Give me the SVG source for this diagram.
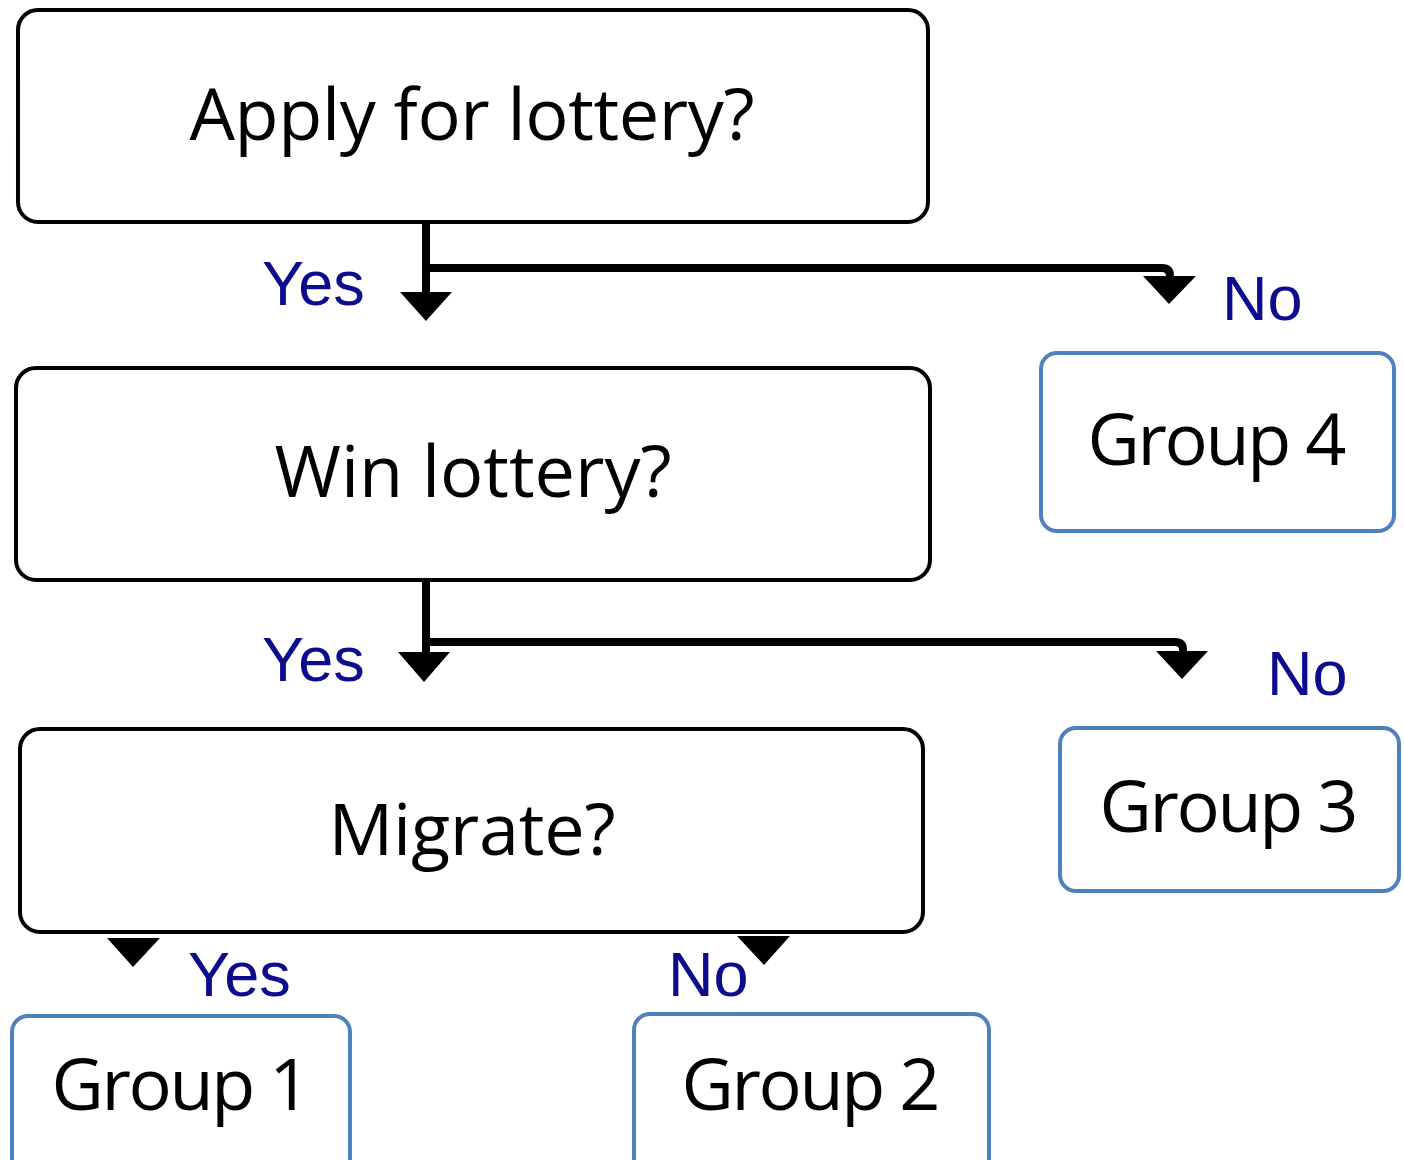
<svg xmlns="http://www.w3.org/2000/svg" width="1404" height="1160" viewBox="0 0 1404 1160">
<style>
.q{fill:#fff;stroke:#000;stroke-width:4}
.g{fill:#fff;stroke:#4f81bd;stroke-width:4}
.t{font-family:"Open Sans","Noto Sans",sans-serif;font-size:72px;fill:#000;text-anchor:middle}
.l{font-family:"Liberation Sans",Arial,sans-serif;font-size:63px;fill:#0c0c8c}
.c{fill:none;stroke:#000;stroke-width:8;stroke-linejoin:round}
.h{fill:#000}
</style>
<g id="connectors">
<path class="c" d="M426 222 V296"/>
<path class="c" d="M426 268 H1162 Q1170 268 1170 276 V290"/>
<polygon class="h" points="400,292 452,292 426,321"/>
<polygon class="h" points="1143,276 1196,276 1169,304"/>
<path class="c" d="M426 580 V656"/>
<path class="c" d="M426 642 H1175 Q1183 642 1183 650 V660"/>
<polygon class="h" points="398,652 450,652 424,682"/>
<polygon class="h" points="1156,651 1208,651 1182,679"/>
<polygon class="h" points="107,938 160,938 133,967"/>
<polygon class="h" points="737,936 790,936 764,965"/>
<text class="l" x="262" y="305">Yes</text>
<text class="l" x="1222" y="320">No</text>
<text class="l" x="262" y="681">Yes</text>
<text class="l" x="1267" y="695">No</text>
<text class="l" x="188" y="996">Yes</text>
<text class="l" x="668" y="996">No</text>
</g>
<g id="n1"><rect class="q" x="18" y="10" width="910" height="212" rx="20"/><text class="t" x="472" y="140" textLength="565">Apply for lottery?</text></g>
<g id="n2"><rect class="q" x="16" y="368" width="914" height="212" rx="20"/><text class="t" x="473" y="497" textLength="397">Win lottery?</text></g>
<g id="n3"><rect class="q" x="20" y="729" width="903" height="203" rx="20"/><text class="t" x="472" y="855" textLength="287">Migrate?</text></g>
<g id="g4"><rect class="g" x="1041" y="353" width="353" height="178" rx="16"/><text class="t" x="1217" y="465" textLength="259">Group 4</text></g>
<g id="g3"><rect class="g" x="1060" y="728" width="339" height="163" rx="16"/><text class="t" x="1229" y="832" textLength="259">Group 3</text></g>
<g id="g1"><rect class="g" x="12" y="1016" width="338" height="160" rx="16"/><text class="t" x="181" y="1110" textLength="259">Group 1</text></g>
<g id="g2"><rect class="g" x="634" y="1014" width="355" height="160" rx="16"/><text class="t" x="811" y="1110" textLength="259">Group 2</text></g>
</svg>
